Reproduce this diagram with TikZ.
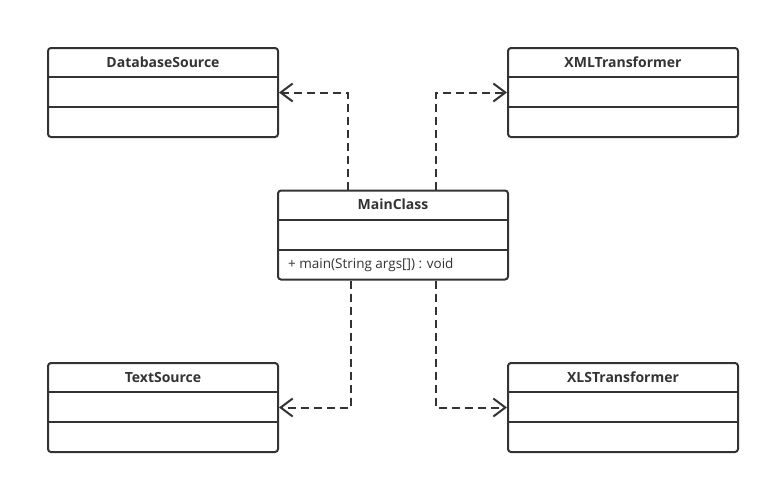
\documentclass[tikz,border=0pt]{standalone}
\usepackage{fontspec}
\setmainfont{Open Sans}
\usetikzlibrary{arrows.meta,calc}
\definecolor{ink}{HTML}{333333}
\tikzset{
  classbox/.style={draw=ink, line width=2pt, rounded corners=3pt, minimum width=230pt, minimum height=89pt, inner sep=0pt},
  title/.style={font=\bfseries\fontsize{14}{16}\selectfont, text=ink, inner sep=0pt},
  member/.style={font=\fontsize{13.5}{16}\selectfont, text=ink, inner sep=0pt, anchor=west},
  sep/.style={draw=ink, line width=2pt},
  dep/.style={draw=ink, line width=2pt, dash pattern=on 8pt off 5pt, -{Straight Barb[length=12pt,width=18pt,line width=2pt]}}
}
\begin{document}
\begin{tikzpicture}[x=1pt,y=-1pt]
\useasboundingbox (0,0) rectangle (770,485);
% classes
\node[classbox] (db) at (163,92.5) {};
\node[classbox] (xml) at (623,92.5) {};
\node[classbox] (main) at (393,235) {};
\node[classbox] (txt) at (163,407.5) {};
\node[classbox] (xls) at (623,407.5) {};
% compartments
\foreach \n in {db,xml,main,txt,xls}{
  \draw[sep] ($(\n.north west)+(0,30)$) -- ($(\n.north east)+(0,30)$);
  \draw[sep] ($(\n.north west)+(0,60)$) -- ($(\n.north east)+(0,60)$);
}
% titles
\node[title] (dbt) at ($(db.north)+(0,15)$) {DatabaseSource};
\node[title] (xmlt) at ($(xml.north)+(0,15)$) {XMLTransformer};
\node[title] (maint) at ($(main.north)+(0,15)$) {MainClass};
\node[title] (txtt) at ($(txt.north)+(0,15)$) {TextSource};
\node[title] (xlst) at ($(xls.north)+(0,15)$) {XLSTransformer};
\node[member] (mainm) at ($(main.north west)+(11,75)$) {+ main(String args[]) : void};
% connectors
\coordinate (a1) at ($(main.north west)+(71,0)$);
\coordinate (a2) at ($(main.north west)+(159,0)$);
\coordinate (a3) at ($(main.south west)+(74,0)$);
\coordinate (a4) at ($(main.south west)+(159,0)$);
\draw[dep] (a1) |- (db.east);
\draw[dep] (a2) |- (xml.west);
\draw[dep] (a3) |- (txt.east);
\draw[dep] (a4) |- (xls.west);
\end{tikzpicture}
\end{document}
